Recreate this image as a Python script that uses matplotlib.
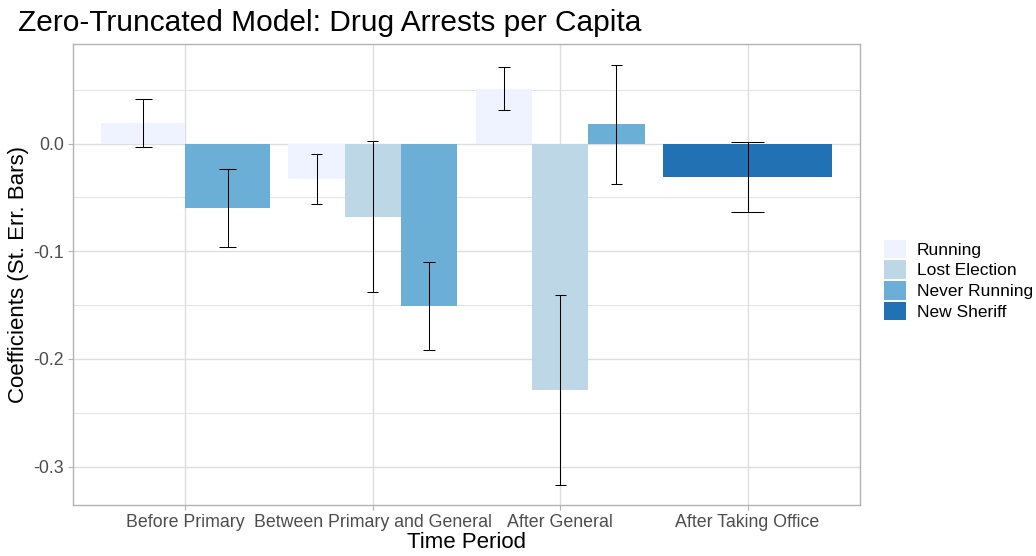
import numpy as np
import matplotlib
matplotlib.use("Agg")
import matplotlib.pyplot as plt
from matplotlib.patches import Patch

plt.rcParams['font.family'] = ['Liberation Sans', 'DejaVu Sans']

periods = ["Before Primary", "Between Primary and General", "After General", "After Taking Office"]
statuses = ["Running", "Lost Election", "Never Running", "New Sheriff"]
colors = ["#EFF3FF", "#BDD7E7", "#6BAED6", "#2171B5"]

nan = np.nan
running = [0.019, -0.033, 0.051, nan]
running_se = [0.022, 0.023, 0.020, nan]
lost_election = [nan, -0.068, -0.229, nan]
lost_election_se = [nan, 0.070, 0.088, nan]
never_running = [-0.060, -0.151, 0.0177, nan]
never_running_se = [0.036, 0.041, 0.0555, nan]
new_sheriff = [nan, nan, nan, -0.031]
new_sheriff_se = [nan, nan, nan, 0.0325]

coefs = [running, lost_election, never_running, new_sheriff]
ses = [running_se, lost_election_se, never_running_se, new_sheriff_se]

fig = plt.figure(figsize=(10.36, 5.56), dpi=100)
ax = fig.add_axes([73 / 1036, 1 - 505 / 556, (860 - 73) / 1036, (505 - 44) / 556])

grid_col = "#DEDEDE"
dodge = 0.9
for gi, period in enumerate(periods):
    present = [si for si in range(len(statuses)) if not np.isnan(coefs[si][gi])]
    n = len(present)
    w = dodge / n
    for k, si in enumerate(present):
        x = gi + 1 - dodge / 2 + (k + 0.5) * w
        v = coefs[si][gi]
        se = ses[si][gi]
        ax.bar(x, v, width=w, color=colors[si], zorder=2, linewidth=0)
        cap = 0.1 * w
        ax.vlines(x, v - se, v + se, color="black", linewidth=0.75, zorder=3)
        ax.hlines([v - se, v + se], x - cap, x + cap, color="black", linewidth=0.75, zorder=3)

ax.set_xlim(0.4, 4.6)
ax.set_ylim(-0.3357, 0.0924)
ax.set_xticks(range(1, len(periods) + 1))
ax.set_xticklabels(periods)
ax.set_yticks([-0.3, -0.2, -0.1, 0.0])
ax.set_yticklabels(["-0.3", "-0.2", "-0.1", "0.0"])
ax.set_yticks([-0.25, -0.15, -0.05, 0.05], minor=True)
ax.grid(True, which="major", color=grid_col, linewidth=1.0, zorder=0)
ax.grid(True, which="minor", axis="y", color=grid_col, linewidth=0.6, zorder=0)
ax.set_axisbelow(True)
ax.tick_params(axis="both", which="major", colors="#B3B3B3", length=3.5, width=0.8,
               labelcolor="#4D4D4D", labelsize=12.8, pad=3)
ax.tick_params(axis="both", which="minor", length=0)
for s in ax.spines.values():
    s.set_color("#B3B3B3")
    s.set_linewidth(1.0)

ax.set_xlabel("Time Period", fontsize=16, color="black", labelpad=1)
ax.set_ylabel("Coefficients (St. Err. Bars)", fontsize=16, color="black", labelpad=3)
fig.text(18 / 1036, 1 - 23 / 556, "Zero-Truncated Model: Drug Arrests per Capita",
         fontsize=21.5, color="black", ha="left", va="center")

handles = [Patch(facecolor=c, edgecolor="none", label=s) for c, s in zip(colors, statuses)]
fig.legend(handles=handles, loc="center left", bbox_to_anchor=(870 / 1036, 1 - 280 / 556),
           frameon=False, fontsize=12.5, handlelength=1.3, handleheight=1.3,
           labelspacing=0.1, handletextpad=0.6, borderpad=0.3)

fig.savefig("out.png", dpi=100)
